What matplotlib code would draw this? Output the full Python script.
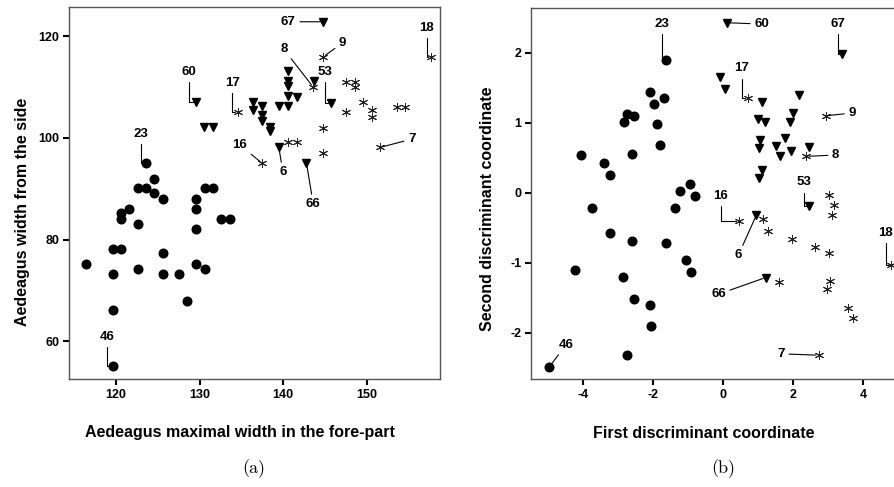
import matplotlib.pyplot as plt

plt.rcParams['font.family'] = ['Liberation Sans', 'DejaVu Sans']
plt.rcParams['font.weight'] = 'bold'
plt.rcParams['axes.unicode_minus'] = False

# ---- panel (a): aedeagus measurements ----
circ_a_x = [116.4, 119.6, 119.6, 120.6, 119.6, 119.6, 120.6, 120.6, 121.6, 122.6,
            123.6, 124.6, 124.6, 125.6, 123.6, 122.6, 122.6, 125.6, 125.6, 127.6,
            128.5, 129.6, 129.6, 129.6, 129.6, 130.6, 130.6, 131.6, 132.6, 133.6]
circ_a_y = [75.1, 73.2, 78.1, 78.1, 66.2, 55.2, 85.2, 84.0, 86.0, 90.1,
            90.1, 91.9, 89.2, 88.0, 95.0, 83.1, 74.2, 77.3, 73.2, 73.2,
            68.0, 87.9, 86.0, 82.0, 75.1, 74.2, 90.1, 90.1, 84.0, 84.0]
circ_a_lab = ['', '', '', '', '', '46', '', '', '', '',
              '', '', '', '', '23', '', '', '', '', '',
              '', '', '', '', '', '', '', '', '', '']

tri_a_x = [144.8, 129.6, 130.5, 131.6, 136.4, 137.5, 136.4, 137.5, 137.5, 138.5,
           138.5, 140.6, 140.6, 140.6, 140.6, 141.7, 139.5, 140.6, 143.7, 145.7,
           139.5, 142.8]
tri_a_y = [122.8, 107.0, 102.2, 102.2, 107.1, 106.3, 105.4, 104.4, 103.3, 102.2,
           101.3, 113.1, 111.1, 110.2, 108.2, 108.1, 106.2, 106.2, 111.1, 106.9,
           98.1, 95.1]
tri_a_lab = ['67', '60', '', '', '', '', '', '', '', '',
             '', '', '', '', '', '', '', '', '', '53',
             '6', '66']

ast_a_x = [157.7, 144.8, 134.6, 143.6, 137.5, 151.6, 140.6, 141.7, 144.8, 144.8,
           147.6, 147.6, 148.6, 148.6, 149.6, 150.6, 150.6, 153.6, 154.6]
ast_a_y = [115.8, 115.9, 105.0, 110.0, 95.0, 98.1, 99.2, 99.2, 102.0, 97.1,
           105.1, 111.0, 111.0, 109.9, 107.1, 105.5, 104.0, 106.0, 106.0]
ast_a_lab = ['18', '9', '17', '8', '16', '7', '', '', '', '',
             '', '', '', '', '', '', '', '', '']

# ---- panel (b): discriminant scores ----
circ_b_x = [-1.64, -2.09, -1.69, -1.98, -2.76, -2.55, -2.84, -1.90, -1.79, -4.05,
            -2.60, -3.41, -3.24, -1.22, -0.95, -0.79, -1.38, -3.74, -3.24, -2.59,
            -1.64, -1.05, -0.92, -4.22, -2.86, -2.55, -2.09, -2.05, -2.76, -4.97]
circ_b_y = [1.90, 1.44, 1.36, 1.27, 1.13, 1.10, 1.01, 0.98, 0.69, 0.54,
            0.55, 0.42, 0.25, 0.03, 0.13, -0.04, -0.21, -0.21, -0.58, -0.69,
            -0.72, -0.96, -1.13, -1.10, -1.20, -1.52, -1.60, -1.90, -2.32, -2.49]
circ_b_lab = ['23', '', '', '', '', '', '', '', '', '',
              '', '', '', '', '', '', '', '', '', '',
              '', '', '', '', '', '', '', '', '', '46']

tri_b_x = [0.11, 3.41, -0.09, 0.05, 1.11, 2.16, 1.00, 1.21, 2.00, 1.91,
           1.05, 1.02, 1.78, 1.51, 1.62, 1.95, 2.46, 1.10, 1.02, 2.46,
           0.95, 1.22]
tri_b_y = [2.43, 1.99, 1.66, 1.48, 1.30, 1.40, 1.05, 1.01, 1.14, 1.01,
           0.76, 0.64, 0.79, 0.67, 0.52, 0.60, 0.66, 0.32, 0.21, -0.19,
           -0.32, -1.21]
tri_b_lab = ['60', '67', '', '', '', '', '', '', '', '',
             '', '', '', '', '', '', '', '', '', '53',
             '6', '66']

ast_b_x = [0.70, 2.93, 2.38, 3.03, 3.16, 3.10, 0.45, 1.14, 1.29, 1.98,
           2.62, 3.03, 3.07, 2.98, 1.59, 3.57, 3.71, 2.73, 4.81]
ast_b_y = [1.36, 1.10, 0.52, -0.03, -0.18, -0.31, -0.40, -0.38, -0.55, -0.66,
           -0.77, -0.86, -1.26, -1.38, -1.28, -1.64, -1.79, -2.32, -1.03]
ast_b_lab = ['17', '9', '8', '', '', '', '16', '', '', '',
             '', '', '', '', '', '', '', '7', '18']

# label text offsets (points); labels in *_elbow get a down-then-across leader
offs_a = {'60': (-5, 22), '17': (-4, 21), '23': (-4, 21), '46': (-4, 21),
          '67': (-25, 0), '18': (-3, 21), '9': (14, 10), '8': (-21, 27),
          '53': (-4, 22), '6': (3, -18), '16': (-16, 13), '66': (5, -30),
          '7': (23, 6)}
elbow_a = ['60', '17', '23', '46', '18', '53']
offs_b = {'23': (-3, 26), '46': (12, 16), '60': (25, -1), '67': (-3, 21),
          '17': (-4, 21), '9': (19, 2), '8': (21, 1), '53': (-4, 17),
          '16': (-13, 18), '6': (-13, -29), '66': (-34, -12), '7': (-27, 1),
          '18': (-4, 23)}
elbow_b = ['23', '67', '17', '53', '18', '16']

W, H = 894, 487
fig = plt.figure(figsize=(W / 100, H / 100), dpi=100)
ax1 = fig.add_axes([69 / W, 1 - 379 / H, 371 / W, 372 / H])
ax2 = fig.add_axes([531 / W, 1 - 379 / H, 374 / W, 371 / H])


def draw(ax, groups, offs, elbow):
    for xs, ys, labs, mk, ms in groups:
        if mk == 'ast':
            ax.plot(xs, ys, ls='none', marker=(6, 2, 0), ms=6.5, mec='#222222',
                    mew=0.7, clip_on=False)
        else:
            ax.plot(xs, ys, ls='none', marker=mk, ms=ms, mfc='black', mec='black',
                    clip_on=False)
        for x, y, lab in zip(xs, ys, labs):
            if lab:
                cs = 'angle,angleA=90,angleB=0,rad=0' if lab in elbow else 'arc3'
                ax.annotate(lab, (x, y), xytext=offs[lab], textcoords='offset points',
                            ha='center', va='center', fontsize=9.5, fontweight='bold',
                            arrowprops=dict(arrowstyle='-', lw=0.8, color='black',
                                            shrinkA=1, shrinkB=2,
                                            connectionstyle=cs))


draw(ax1, [(circ_a_x, circ_a_y, circ_a_lab, 'o', 6.2),
           (tri_a_x, tri_a_y, tri_a_lab, 'v', 6),
           (ast_a_x, ast_a_y, ast_a_lab, 'ast', 6)], offs_a, elbow_a)
draw(ax2, [(circ_b_x, circ_b_y, circ_b_lab, 'o', 6.2),
           (tri_b_x, tri_b_y, tri_b_lab, 'v', 6),
           (ast_b_x, ast_b_y, ast_b_lab, 'ast', 6)], offs_b, elbow_b)

ax1.set_xlim(114.37, 158.8)
ax1.set_ylim(52.6, 125.7)
ax1.set_xticks([120, 130, 140, 150])
ax1.set_yticks([60, 80, 100, 120])
ax2.set_xlim(-5.49, 5.2)
ax2.set_ylim(-2.66, 2.64)
ax2.set_xticks([-4, -2, 0, 2, 4])
ax2.set_yticks([-2, -1, 0, 1, 2])

for ax in (ax1, ax2):
    for sp in ax.spines.values():
        sp.set_color('#555555')
        sp.set_linewidth(1)
    ax.tick_params(direction='out', length=4.5, width=1.5, pad=2.5,
                   labelsize=9, color='black')
    for t in ax.get_xticklabels() + ax.get_yticklabels():
        t.set_fontweight('bold')

fig.text(240 / W, 1 - 433 / H, 'Aedeagus maximal width in the fore-part',
         ha='center', va='center', fontsize=11.5, fontweight='bold')
fig.text(23 / W, 1 - 212 / H, 'Aedeagus width from the side', rotation=90,
         ha='center', va='center', fontsize=11.5, fontweight='bold')
fig.text(704 / W, 1 - 433 / H, 'First discriminant coordinate',
         ha='center', va='center', fontsize=11.5, fontweight='bold')
fig.text(488 / W, 1 - 209 / H, 'Second discriminant coordinate', rotation=90,
         ha='center', va='center', fontsize=11.5, fontweight='bold')

fig.text(254 / W, 1 - 469 / H, '(a)', ha='center', va='center', fontsize=13,
         family='cmr10', fontweight='normal')
fig.text(723 / W, 1 - 469 / H, '(b)', ha='center', va='center', fontsize=13,
         family='cmr10', fontweight='normal')

fig.savefig('out.png', dpi=100)
